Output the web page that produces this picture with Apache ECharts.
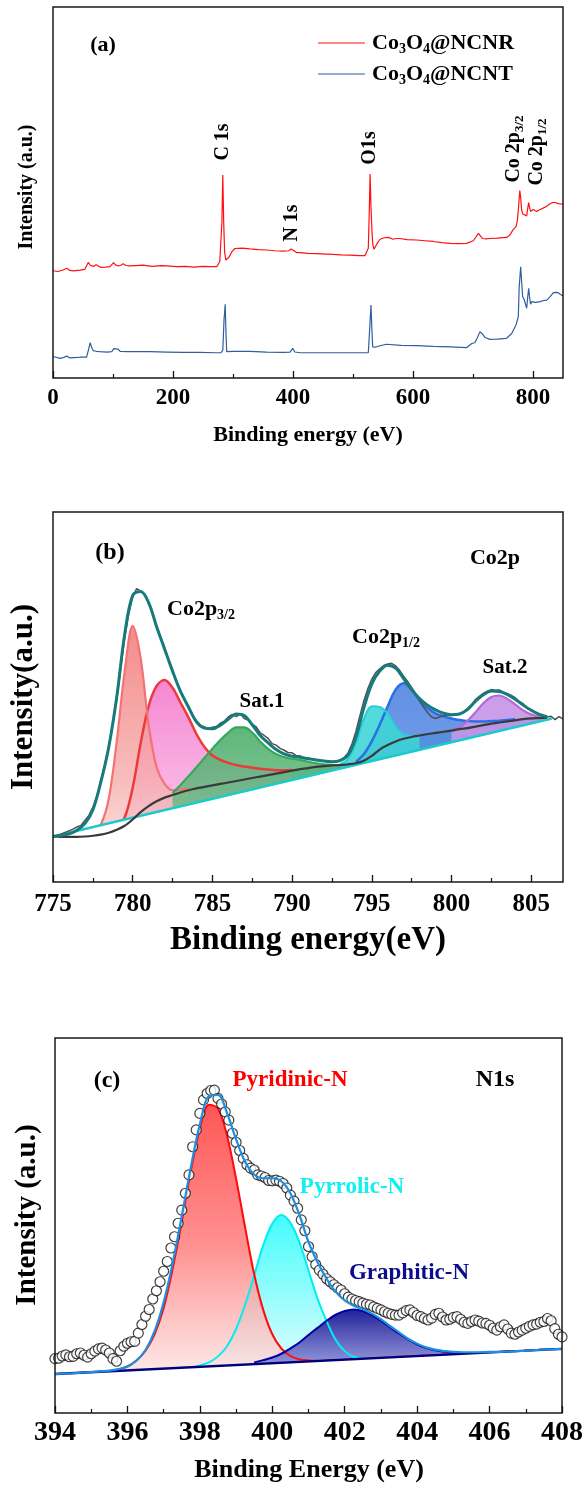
<!DOCTYPE html>
<html>
<head>
<meta charset="utf-8">
<script src="https://cdn.jsdelivr.net/npm/echarts@6.0.0/dist/echarts.min.js"></script>
<style>
  html, body { margin: 0; padding: 0; background: #fff; }
  #chart { width: 587px; height: 1490px; }
</style>
</head>
<body>
<div id="chart"></div>
<script>
const SERIF = '"Liberation Serif", "Times New Roman", serif';

// ---------- (a) XPS survey: [binding energy (eV), intensity (a.u.)] ----------
const surveyNCNR = [
  [0,28.9],[8,28.7],[17,29.1],[23,29.6],[28,29.0],[34,28.9],[45,29.1],[53,29.3],[56,29.8],[59,31.2],
  [62,30.4],[65,30.0],[68,30.1],[72,30.5],[75,30.0],[80,29.8],[88,29.9],[95,30.0],[98,30.5],[101,31.1],
  [104,30.5],[109,30.2],[113,30.4],[117,30.8],[121,30.4],[126,30.2],[138,30.3],[150,30.4],[165,30.1],[180,30.3],
  [190,30.2],[205,30.0],[220,30.1],[235,29.9],[250,30.1],[262,30.0],[273,30.0],[278,31.4],[281.5,42],[283,54.7],
  [284.5,42],[286,34],[288,31.8],[289.5,31.4],[293,32.5],[298,34.0],[303,34.9],[306,35.2],[315,35.0],[328,34.8],
  [342,34.6],[356,34.5],[370,34.3],[384,34.2],[393,34.3],[397,34.8],[400,34.3],[406,33.8],[412,33.8],[425,33.6],
  [440,33.5],[455,33.4],[467,33.3],[480,33.2],[495,33.1],[510,33.0],[520,33.0],[525.5,35],[527,44],[528.5,55],
  [530,46],[531.5,40],[533,36],[535,34.7],[540,36.2],[545,37.4],[552,37.8],[559,37.9],[567,37.4],[572,37.6],
  [578,37.6],[590,37.3],[606,37.2],[620,37.0],[634,36.8],[648,36.5],[662,36.3],[675,36.2],[689.5,36.3],[700.5,37.0],
  [705,38.0],[709,39.0],[712,38.8],[716,37.6],[722,37.5],[728,37.6],[740,37.7],[756,37.9],[762,38.6],[766,39.8],
  [771.7,40.8],[774,42.5],[775.5,45.3],[778,50.5],[779.5,48.5],[781,45.3],[783,44.2],[785,43.9],[789.5,43.7],[791,45.5],
  [792.8,47.3],[794.5,45.8],[796,44.9],[798,45.2],[800.5,45.4],[803,45.0],[806,44.9],[810,45.3],[817,45.8],[822,46.2],
  [828,46.9],[833,47.3],[837,47.3],[842,47.0],[848,46.9],[850,46.8]
];
const surveyNCNT = [
  [0,5.8],[5,5.6],[11.7,5.3],[17,5.5],[23,5.9],[28,5.4],[35,5.5],[45,5.6],[56,5.6],[59,7.5],
  [62,9.5],[64.5,8.2],[67,7.4],[72,7.2],[78,7.1],[90,7.0],[98,7.1],[101,7.9],[104,8.4],[108,7.8],
  [112,7.2],[125,7.1],[140,7.1],[162,7.1],[190,7.0],[217,6.9],[245,6.9],[270,6.8],[280,6.8],[283,7.5],
  [285,15.6],[287,19.9],[288.3,12],[289.5,7.1],[300,7.2],[328,7.2],[356,7.0],[384,6.9],[395,7.0],[399.5,8.0],
  [403,7.0],[412,6.8],[440,6.8],[467,6.8],[495,6.8],[525.5,6.8],[528,13.8],[530,19.7],[531.5,13],[532.8,8.4],
  [536.7,8.3],[545,8.7],[556,9.1],[580,8.8],[606,8.7],[634,8.5],[662,8.4],[689.5,8.2],[698,9.3],[703,9.5],
  [707,10.8],[711.7,12.5],[716,11.8],[720,10.9],[728,10.4],[740,10.5],[756,10.7],[764.5,12.0],[771.7,14.3],[775.5,16.5],
  [777,24.6],[779.5,30.0],[781,26],[782.8,21.9],[785,21.3],[787,21.0],[789.5,18.8],[791,21.5],[792.8,24.2],[794.5,21.5],
  [796,19.9],[798,20.6],[800.5,21.0],[804,20.4],[807,20.3],[812,20.6],[818,20.9],[823,21.0],[829,22.0],[834,23.0],
  [838,23.1],[842,23.0],[846,22.5],[850,22.1]
];
const surveyTicks = [0, 200, 400, 600, 800];
const surveyMinorTicks = [100, 300, 500, 700];

// ---------- (b) Co 2p high-resolution spectrum ----------
const co2pTicks = [775, 780, 785, 790, 795, 800, 805];
const co2pMinorTicks = [777.5, 782.5, 787.5, 792.5, 797.5, 802.5];
const co2pRawStart = 775, co2pRawStep = 0.25;
const co2pRaw = [
  12.4,12.6,12.9,13.4,13.8,14.3,14.9,15.3,
  16.6,18.0,20.2,23.2,27.5,31.8,36.8,42.6,
  49.5,57.8,66.0,72.4,77.0,79.3,78.6,77.8,
  75.2,72.8,69.4,66.2,63.4,60.2,57.4,54.2,
  51.6,49.3,47.0,45.0,43.6,42.4,41.9,41.5,
  41.8,42.0,42.9,43.5,44.6,45.3,44.7,45.5,
  44.2,43.8,42.7,41.9,40.3,39.6,38.8,37.4,
  37.0,36.1,35.6,35.0,34.9,34.2,34.1,33.6,
  33.5,33.2,33.1,32.8,32.7,32.5,32.6,32.5,
  32.9,33.6,34.8,37.2,40.6,44.8,48.9,52.2,
  54.8,56.6,57.6,58.5,58.9,59.1,58.4,57.2,
  55.6,54.2,52.6,50.9,49.1,47.3,45.8,44.6,
  44.2,44.6,44.9,45.1,45.0,45.4,45.3,45.9,
  46.9,47.8,49.3,50.2,51.0,51.6,52.0,51.8,
  51.9,51.3,50.9,50.4,49.8,48.8,48.2,47.0,
  46.5,45.9,45.5,45.0,44.6,44.8,43.9,44.7,
  44.1
];
const co2pFitStart = 775, co2pFitStep = 0.5;
const co2pEnvelope = [
  12.3,12.6,13.0,14.0,15.8,19.5,27.0,36.5,50.0,67.0,
  77.5,78.5,75.5,69.0,63.0,57.0,51.5,47.3,43.3,41.6,
  41.4,42.4,44.0,45.4,45.0,42.5,39.6,37.6,35.8,34.6,
  34.0,33.7,33.3,33.0,32.7,32.5,32.8,34.2,39.0,47.0,
  53.5,57.0,58.6,57.8,55.0,52.0,49.6,47.8,46.5,45.6,
  45.2,45.4,46.6,48.8,50.6,51.6,51.5,50.7,49.4,47.8,
  46.4,45.3,44.7
];
const co2pShirley = [
  12.3,12.2,12.2,12.2,12.3,12.5,12.8,13.3,14.1,15.2,
  16.9,18.9,20.5,21.8,22.8,23.5,24.2,24.8,25.3,25.7,
  26.1,26.5,26.9,27.3,27.7,28.1,28.5,28.9,29.3,29.7,
  30.1,30.5,30.8,31.1,31.3,31.5,31.6,31.8,32.1,32.8,
  34.1,35.8,37.0,38.0,38.7,39.2,39.6,40.0,40.3,40.6,
  40.9,41.3,41.6,42.0,42.4,42.8,43.1,43.4,43.7,44.0,
  44.2,44.3,44.4
];
const co2pLinear = [[775, 12.3], [806.3, 44.2]];
const co2pPeak780 = { start: 777, values: [12.5,13.2,15.5,22.5,38.0,57.0,69.2,60.5,42.5,31.0,26.5,24.8,25.0,25.2] };
const co2pPeak782 = { start: 779, values: [15.0,17.5,25.5,37.5,47.5,53.0,54.6,52.5,48.5,44.5,40.0,36.5,34.2,33.0,32.2,31.6,31.2,30.9,30.6,30.4,30.2,30.2,30.3] };
const co2pSat1 = { start: 782.5, values: [24.0,26.2,28.6,31.0,33.5,36.0,38.4,40.4,41.8,41.8,40.4,38.0,36.0,34.6,33.8,33.3,33.0,32.5,32.1,31.8,31.6,31.6] };
const co2pPeak795 = { start: 793, values: [31.8,33.2,37.5,44.0,47.5,47.3,45.5,42.0,39.8,39.4,39.7] };
const co2pPeak797 = { start: 794, values: [32.4,34.5,38.0,42.5,47.5,52.0,53.7,52.0,49.0,47.0,45.6,44.8,44.2,43.8,43.5,43.4,43.4,43.5,43.6,43.8,44.0] };
const co2pSat2 = { start: 800, values: [41.0,41.8,43.5,45.8,48.3,50.0,50.4,49.5,48.0,46.4,45.3,44.7,44.5] };

// ---------- (c) N 1s high-resolution spectrum ----------
const n1sTicks = [394, 396, 398, 400, 402, 404, 406, 408];
const n1sMinorTicks = [395, 397, 399, 401, 403, 405, 407];
const n1sRawStart = 394, n1sRawStep = 0.1;
const n1sRaw = [
  14.5,14.6,15.2,15.5,15.0,15.1,15.8,16.0,15.4,14.9,
  15.8,16.5,17.1,17.3,16.8,16.0,14.5,13.8,16.6,17.8,
  18.6,19.0,19.1,21.3,23.6,25.8,27.6,30.4,32.6,35.0,
  37.8,40.4,44.0,47.0,50.6,54.1,58.6,63.5,71.0,75.5,
  79.9,83.5,85.2,86.0,86.1,83.9,82.4,80.3,78.1,74.6,
  72.2,70.0,67.9,66.2,65.3,64.8,63.5,63.2,62.8,62.0,
  61.9,62.1,61.8,61.2,60.0,58.1,56.5,54.6,51.5,48.6,
  44.4,41.7,39.6,38.1,37.0,35.8,35.0,34.2,33.4,32.8,
  31.8,30.9,30.4,30.0,29.7,29.3,29.0,28.8,28.3,27.9,
  27.5,27.0,26.6,26.3,26.1,26.1,26.7,27.3,27.5,26.8,
  26.0,25.7,25.2,24.8,25.3,26.3,26.6,25.6,24.8,25.0,
  25.5,25.7,25.0,24.2,23.9,24.4,24.8,24.5,24.0,23.9,
  23.4,22.6,22.1,23.0,23.5,22.4,21.3,21.0,21.6,22.1,
  22.6,23.1,23.5,23.7,24.2,24.4,25.2,24.6,22.5,21.0,
  20.3
];
const n1sFitStep = 0.25;
const n1sEnvelope = { start: 394, values: [
  10.4,10.5,10.6,10.8,10.9,11.1,11.3,11.7,12.4,14.0,
  16.8,21.8,29.5,40.0,52.5,65.5,77.0,84.5,84.8,80.0,
  73.0,67.0,63.6,62.6,62.6,61.8,58.6,52.8,45.6,40.2,
  35.8,32.3,30.0,28.6,27.7,26.5,25.0,23.2,21.5,19.8,
  18.5,17.5,16.9,16.5,16.3,16.2,16.2,16.2,16.3,16.3,
  16.4,16.5,16.6,16.8,16.9,17.0,17.1
] };
const n1sPyridinic = { start: 394, values: [
  10.4,10.5,10.6,10.8,10.9,11.0,11.2,11.6,12.4,14.0,
  16.6,21.0,28.0,38.5,51.0,64.5,75.8,82.2,81.2,74.0,
  62.5,49.5,37.0,27.5,21.0,17.2,15.2,14.3,14.0,13.9,
  14.0,14.1,14.2,14.4,14.5,14.6,14.7,14.8,15.0,15.1,
  15.2,15.3,15.4,15.6,15.7,15.8,15.9,16.0,16.2,16.3,
  16.4,16.5,16.6,16.8,16.9,17.0,17.1
] };
const n1sPyrrolic = { start: 397.5, values: [
  12.1,12.2,12.7,13.5,15.1,17.8,22.4,28.9,36.7,44.7,
  50.5,52.8,50.7,45.5,38.0,30.5,24.5,19.5,16.5,15.0,
  14.6,14.6,14.7
] };
const n1sGraphitic = { start: 399.5, values: [
  13.5,14.1,14.8,15.8,17.2,18.8,20.8,22.7,24.6,26.2,
  27.2,27.6,27.2,26.1,24.6,22.9,21.2,19.6,18.3,17.3,
  16.7,16.3,16.1,16.0,16.0,16.0,16.2,16.3,16.4,16.5,
  16.6,16.8,16.9,17.0,17.1
] };
const n1sBaseline = [[394, 10.4], [408, 17.1]];

// ---------- helpers ----------
function seq(start, step, values) {
  return values.map((v, i) => [+(start + i * step).toFixed(3), v]);
}
function vgrad(stops) {
  return new echarts.graphic.LinearGradient(0, 0, 0, 1,
    stops.map(s => ({ offset: s[0], color: s[1] })));
}
function mainX(gridIndex, min, max, majors, fontSize, margin) {
  return {
    type: 'value', gridIndex, min, max, z: 10,
    axisLine: { show: false },
    axisTick: { show: true, inside: true, length: 7, customValues: majors,
                lineStyle: { color: '#111', width: 1.3 } },
    axisLabel: { show: true, customValues: majors, margin, color: '#000',
                 fontSize, fontWeight: 'bold', fontFamily: SERIF },
    splitLine: { show: false }
  };
}
function minorX(gridIndex, min, max, minors) {
  return {
    type: 'value', gridIndex, min, max, z: 10, position: 'bottom',
    axisLine: { show: false },
    axisTick: { show: true, inside: true, length: 4, customValues: minors,
                lineStyle: { color: '#111', width: 1.2 } },
    axisLabel: { show: false },
    splitLine: { show: false }
  };
}
function plainLine(g, data, color, width, z, smooth) {
  return { type: 'line', xAxisIndex: g * 2, yAxisIndex: g, data, symbol: 'none',
           smooth: smooth || false, lineStyle: { color, width }, z, silent: true };
}
function filledPeak(g, data, color, width, stops, smooth) {
  return { type: 'line', xAxisIndex: g * 2, yAxisIndex: g, data, symbol: 'none',
           smooth: smooth, lineStyle: { color, width },
           areaStyle: { color: vgrad(stops), opacity: 1 }, z: 2, silent: true };
}
function baselineMask(g, data, color, width) {
  // white area below the straight background line, with the line on top
  return { type: 'line', xAxisIndex: g * 2, yAxisIndex: g, data, symbol: 'none',
           lineStyle: { color, width }, areaStyle: { color: '#ffffff', opacity: 1 },
           z: 3, silent: true };
}
function label(x, y, text, size, extra) {
  extra = extra || {};
  const style = {
    text, fill: extra.color || '#000',
    font: 'bold ' + size + 'px ' + SERIF,
    align: extra.align || 'center', textAlign: extra.align || 'center',
    verticalAlign: 'middle', textVerticalAlign: 'middle'
  };
  if (extra.rich) style.rich = extra.rich;
  return { type: 'text', x, y, rotation: extra.rot || 0, z: 100, silent: true, style };
}
function subRich(main, sub) {
  return {
    m: { fontSize: main, fontWeight: 'bold', fontFamily: SERIF, lineHeight: main + 4, fill: '#000' },
    s: { fontSize: sub, fontWeight: 'bold', fontFamily: SERIF, lineHeight: sub - 2,
         verticalAlign: 'bottom', fill: '#000' }
  };
}

const ROT = Math.PI / 2;
const fitB = (p) => seq(p.start, co2pFitStep, p.values);
const fitC = (p) => seq(p.start, n1sFitStep, p.values);

const chart = echarts.init(document.getElementById('chart'), null, { renderer: 'canvas' });

const frame = { show: true, borderColor: '#1a1a1a', borderWidth: 1.5, z: 10, backgroundColor: 'transparent' };

const option = {
  animation: false,
  backgroundColor: '#ffffff',
  grid: [
    Object.assign({ left: 53, top: 7, width: 510, height: 371 }, frame),
    Object.assign({ left: 53, top: 512, width: 510, height: 370 }, frame),
    Object.assign({ left: 55, top: 1038, width: 507, height: 375 }, frame)
  ],
  xAxis: [
    mainX(0, 0, 850, surveyTicks, 23, 9),
    minorX(0, 0, 850, surveyMinorTicks),
    mainX(1, 775, 807, co2pTicks, 25, 10),
    minorX(1, 775, 807, co2pMinorTicks),
    mainX(2, 394, 408, n1sTicks, 28, 6),
    minorX(2, 394, 408, n1sMinorTicks)
  ],
  yAxis: [0, 1, 2].map(i => ({ type: 'value', gridIndex: i, min: 0, max: 100, show: false })),
  series: [
    // (a) survey spectra
    plainLine(0, surveyNCNR, '#ff1010', 1.2, 4, false),
    plainLine(0, surveyNCNT, '#2f5f9c', 1.2, 4, false),

    // (b) Shirley background area, fitted components, then the straight background
    filledPeak(1, seq(co2pFitStart, co2pFitStep, co2pShirley), 'rgba(0,0,0,0)', 0,
      [[0, 'rgba(38,168,172,0.92)'], [0.6, 'rgba(90,196,200,0.85)'], [1, 'rgba(200,238,240,0.75)']], 0.3),
    filledPeak(1, fitB(co2pPeak782), '#ec3a3a', 2.5,
      [[0, 'rgba(244,118,204,0.88)'], [0.6, 'rgba(248,168,222,0.8)'], [1, 'rgba(250,215,236,0.75)']], 0.35),
    filledPeak(1, fitB(co2pPeak780), '#f37272', 2.2,
      [[0, 'rgba(242,122,122,0.88)'], [0.6, 'rgba(246,172,172,0.8)'], [1, 'rgba(252,228,228,0.75)']], 0.35),
    filledPeak(1, fitB(co2pSat1), '#35a85c', 2.2,
      [[0, 'rgba(72,172,104,0.88)'], [1, 'rgba(135,202,155,0.8)']], 0.35),
    filledPeak(1, fitB(co2pPeak797), '#2a6fe6', 2.5,
      [[0, 'rgba(82,132,226,0.9)'], [1, 'rgba(104,152,230,0.82)']], 0.35),
    filledPeak(1, fitB(co2pPeak795), '#2ccfd6', 2.2,
      [[0, 'rgba(62,216,216,0.9)'], [1, 'rgba(58,198,204,0.82)']], 0.35),
    filledPeak(1, fitB(co2pSat2), '#b46ad8', 2.2,
      [[0, 'rgba(196,146,230,0.9)'], [1, 'rgba(202,168,236,0.82)']], 0.35),
    baselineMask(1, co2pLinear, '#1ccaca', 2.5),
    plainLine(1, seq(co2pRawStart, co2pRawStep, co2pRaw), '#505050', 1.5, 4, false),
    plainLine(1, seq(co2pFitStart, co2pFitStep, co2pShirley), '#3a3a3a', 2.2, 4, 0.3),
    plainLine(1, seq(co2pFitStart, co2pFitStep, co2pEnvelope), '#177b7b', 3, 5, 0.35),

    // (c) N 1s components, baseline, data and envelope
    filledPeak(2, fitC(n1sPyrrolic), '#00eef0', 2,
      [[0, 'rgba(50,252,252,0.92)'], [0.75, 'rgba(212,252,252,0.86)'], [1, 'rgba(255,255,255,0.8)']], 0.35),
    filledPeak(2, fitC(n1sPyridinic), '#ff0a0a', 2,
      [[0, 'rgba(255,72,72,0.92)'], [0.45, 'rgba(255,125,125,0.86)'], [0.85, 'rgba(253,222,222,0.82)'], [1, 'rgba(255,255,255,0.8)']], 0.35),
    filledPeak(2, fitC(n1sGraphitic), '#0000a0', 2,
      [[0, 'rgba(24,24,148,0.96)'], [0.5, 'rgba(128,128,210,0.88)'], [1, 'rgba(230,230,250,0.8)']], 0.35),
    baselineMask(2, n1sBaseline, '#00007a', 2.5),
    {
      type: 'scatter', xAxisIndex: 4, yAxisIndex: 2,
      data: seq(n1sRawStart, n1sRawStep, n1sRaw),
      symbol: 'circle', symbolSize: 10,
      itemStyle: { color: '#ffffff', borderColor: '#111', borderWidth: 1.2 },
      z: 4, silent: true
    },
    plainLine(2, fitC(n1sEnvelope), '#1c8fe0', 2.2, 5, 0.35)
  ],
  graphic: { elements: [
    // (a)
    label(103, 45, '(a)', 22),
    label(27, 187, 'Intensity (a.u.)', 20, { rot: ROT }),
    label(308, 435, 'Binding energy (eV)', 22),
    label(223, 142, 'C 1s', 20, { rot: ROT }),
    label(292, 223, 'N 1s', 20, { rot: ROT }),
    label(370, 148, 'O1s', 20, { rot: ROT }),
    label(514, 149, '{m|Co 2p}{s|3/2}', 20, { rot: ROT, rich: subRich(20, 13) }),
    label(537, 152, '{m|Co 2p}{s|1/2}', 20, { rot: ROT, rich: subRich(20, 13) }),
    { type: 'line', z: 100, silent: true, shape: { x1: 318, y1: 43, x2: 365, y2: 43 },
      style: { stroke: '#ff1010', lineWidth: 1.2 } },
    { type: 'line', z: 100, silent: true, shape: { x1: 318, y1: 74, x2: 365, y2: 74 },
      style: { stroke: '#2f5f9c', lineWidth: 1.2 } },
    label(372, 43, '{m|Co}{s|3}{m|O}{s|4}{m|@NCNR}', 22, { align: 'left', rich: subRich(22, 14) }),
    label(372, 74, '{m|Co}{s|3}{m|O}{s|4}{m|@NCNT}', 22, { align: 'left', rich: subRich(22, 14) }),

    // (b)
    label(110, 553, '(b)', 24),
    label(24, 697, 'Intensity(a.u.)', 31, { rot: ROT }),
    label(308, 940, 'Binding energy(eV)', 33),
    label(495, 558, 'Co2p', 22),
    label(167, 609, '{m|Co2p}{s|3/2}', 22, { align: 'left', rich: subRich(22, 14) }),
    label(262, 702, 'Sat.1', 21),
    label(352, 637, '{m|Co2p}{s|1/2}', 22, { align: 'left', rich: subRich(22, 14) }),
    label(505, 668, 'Sat.2', 21),

    // (c)
    label(107, 1081, '(c)', 24),
    label(28, 1215, 'Intensity (a.u.)', 29, { rot: ROT }),
    label(309, 1470, 'Binding Energy (eV)', 26),
    label(290, 1080, 'Pyridinic-N', 23, { color: '#ff0000' }),
    label(495, 1080, 'N1s', 24),
    label(352, 1187, 'Pyrrolic-N', 23, { color: '#10f0f0' }),
    label(409, 1273, 'Graphitic-N', 23, { color: '#0c0c8c' })
  ] }
};

chart.setOption(option);
</script>
</body>
</html>
